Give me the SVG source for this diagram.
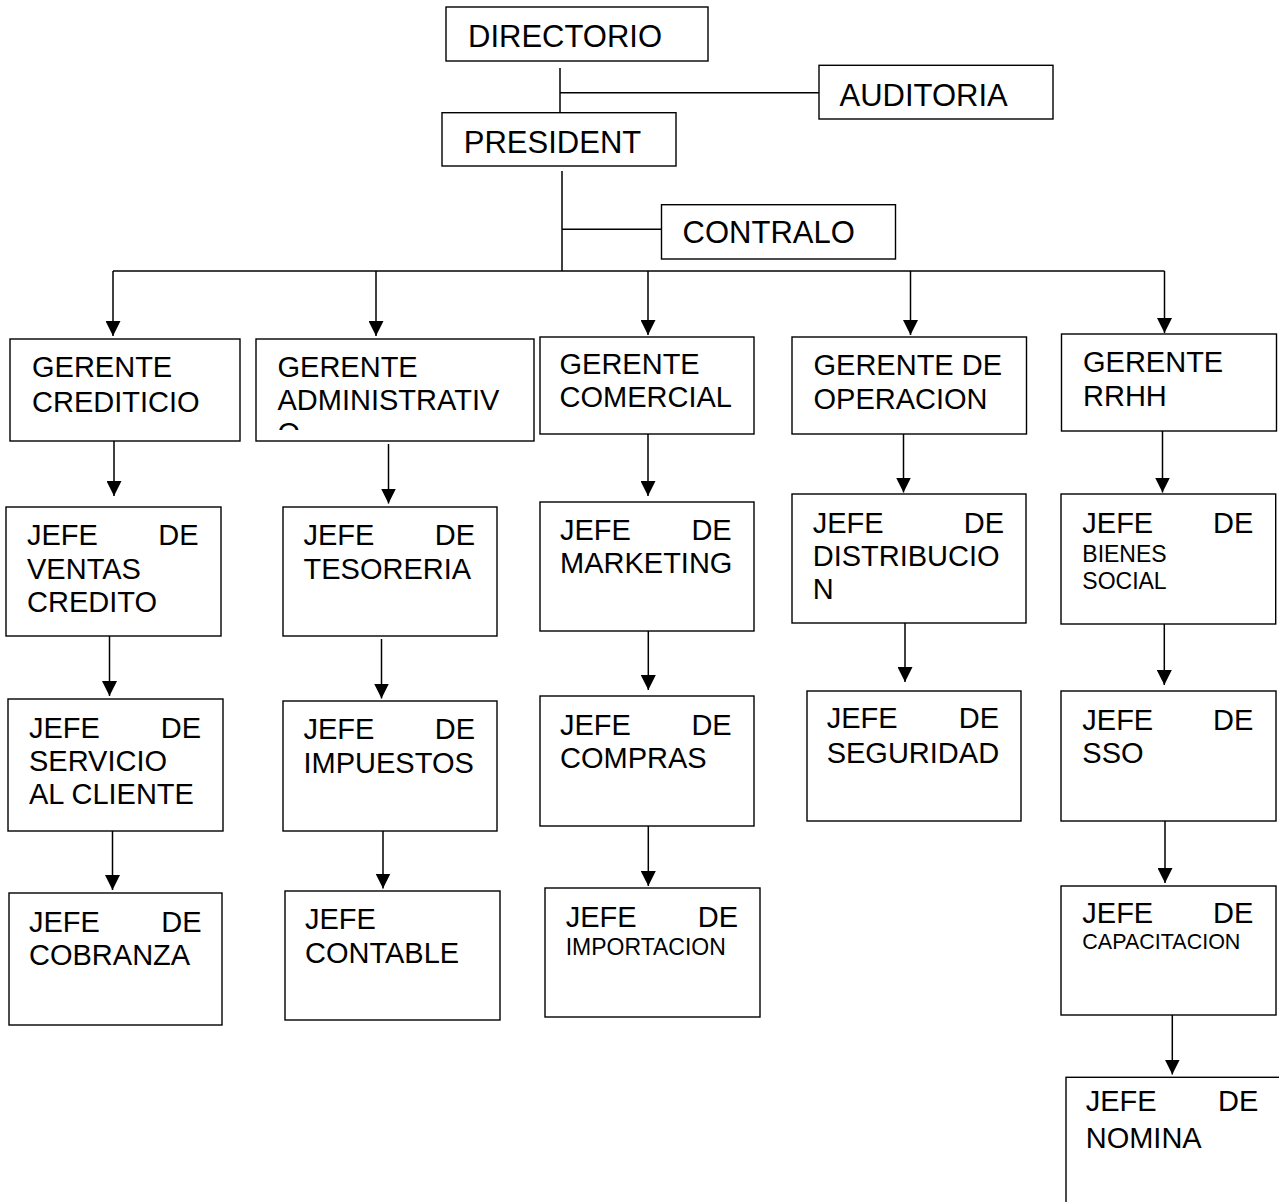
<svg xmlns="http://www.w3.org/2000/svg" width="1279" height="1202" viewBox="0 0 1279 1202">
<style>
.box{fill:#fff;stroke:#000;stroke-width:1.4}
text{font-family:"Liberation Sans",Arial,sans-serif;font-size:29px;fill:#000}
.big{font-size:31px}
.sm{font-size:23px}
.xs{font-size:21.5px}
.end{text-anchor:end}
.ln{stroke:#000;stroke-width:1.5;fill:none}
</style>
<defs>
<marker id="ah" viewBox="0 0 15 15" markerWidth="15" markerHeight="15" refX="15" refY="7.5" orient="auto" markerUnits="userSpaceOnUse">
<path d="M0,0 L15,7.5 L0,15 Z" fill="#000"/>
</marker>
<clipPath id="clipAdmin"><rect x="256" y="339" width="278" height="91"/></clipPath>
</defs>
<rect width="1279" height="1202" fill="#fff"/>

<g id="connectors">
<line class="ln" x1="560" y1="68" x2="560" y2="112"/>
<line class="ln" x1="560" y1="92.7" x2="819" y2="92.7"/>
<line class="ln" x1="562" y1="171" x2="562" y2="271"/>
<line class="ln" x1="562" y1="229.3" x2="661.5" y2="229.3"/>
<line class="ln" x1="113" y1="271" x2="1164.5" y2="271"/>
<line class="ln" x1="113" y1="271" x2="113" y2="336" marker-end="url(#ah)"/>
<line class="ln" x1="376" y1="271" x2="376" y2="336" marker-end="url(#ah)"/>
<line class="ln" x1="648" y1="271" x2="648" y2="335" marker-end="url(#ah)"/>
<line class="ln" x1="910.5" y1="271" x2="910.5" y2="335" marker-end="url(#ah)"/>
<line class="ln" x1="1164.5" y1="271" x2="1164.5" y2="333" marker-end="url(#ah)"/>
<line class="ln" x1="114" y1="441" x2="114" y2="496" marker-end="url(#ah)"/>
<line class="ln" x1="109.5" y1="636" x2="109.5" y2="696" marker-end="url(#ah)"/>
<line class="ln" x1="112.5" y1="831" x2="112.5" y2="890" marker-end="url(#ah)"/>
<line class="ln" x1="388.5" y1="444" x2="388.5" y2="503.5" marker-end="url(#ah)"/>
<line class="ln" x1="381.5" y1="639" x2="381.5" y2="698.5" marker-end="url(#ah)"/>
<line class="ln" x1="383" y1="831" x2="383" y2="888.5" marker-end="url(#ah)"/>
<line class="ln" x1="648" y1="434" x2="648" y2="496" marker-end="url(#ah)"/>
<line class="ln" x1="648.3" y1="631" x2="648.3" y2="690" marker-end="url(#ah)"/>
<line class="ln" x1="648.3" y1="826" x2="648.3" y2="886" marker-end="url(#ah)"/>
<line class="ln" x1="903.5" y1="434" x2="903.5" y2="492.5" marker-end="url(#ah)"/>
<line class="ln" x1="905" y1="623" x2="905" y2="682" marker-end="url(#ah)"/>
<line class="ln" x1="1162.5" y1="431" x2="1162.5" y2="492.5" marker-end="url(#ah)"/>
<line class="ln" x1="1164.3" y1="624" x2="1164.3" y2="685" marker-end="url(#ah)"/>
<line class="ln" x1="1165" y1="821" x2="1165" y2="883" marker-end="url(#ah)"/>
<line class="ln" x1="1172.3" y1="1015" x2="1172.3" y2="1074.5" marker-end="url(#ah)"/>
</g>

<g id="directorio"><rect class="box" x="446" y="7" width="262" height="54"/><text class="big" x="468" y="46.7">DIRECTORIO</text></g>
<g id="auditoria"><rect class="box" x="819" y="65.3" width="234" height="53.7"/><text class="big" x="839.5" y="106">AUDITORIA</text></g>
<g id="president"><rect class="box" x="442" y="112.7" width="234" height="53.3"/><text class="big" x="463.8" y="153.3">PRESIDENT</text></g>
<g id="contralo"><rect class="box" x="661.5" y="204.7" width="234" height="54.3"/><text class="big" x="682.6" y="243.3">CONTRALO</text></g>

<g id="gerente-crediticio"><rect class="box" x="10" y="339" width="230" height="102"/><text x="32" y="377">GERENTE</text><text x="32" y="411.5">CREDITICIO</text></g>
<g id="gerente-administrativo"><rect class="box" x="256" y="339" width="278" height="102"/><text x="277.5" y="376.7">GERENTE</text><text x="277.5" y="410">ADMINISTRATIV</text><text x="277.5" y="443.3" clip-path="url(#clipAdmin)">O</text></g>
<g id="gerente-comercial"><rect class="box" x="540" y="337" width="214" height="97"/><text x="559.5" y="373.5">GERENTE</text><text x="559.5" y="407">COMERCIAL</text></g>
<g id="gerente-operacion"><rect class="box" x="792" y="337" width="234.5" height="97"/><text x="813.5" y="375">GERENTE DE</text><text x="813.5" y="409">OPERACION</text></g>
<g id="gerente-rrhh"><rect class="box" x="1061.5" y="334" width="215" height="97"/><text x="1083" y="371.7">GERENTE</text><text x="1083" y="405.7">RRHH</text></g>

<g id="jefe-ventas"><rect class="box" x="6" y="507" width="215" height="129"/><text x="27" y="545">JEFE</text><text class="end" x="198.5" y="545">DE</text><text x="27" y="578.5">VENTAS</text><text x="27" y="612">CREDITO</text></g>
<g id="jefe-servicio"><rect class="box" x="8" y="699" width="215" height="132"/><text x="29" y="737.5">JEFE</text><text class="end" x="201" y="737.5">DE</text><text x="29" y="771">SERVICIO</text><text x="29" y="804">AL CLIENTE</text></g>
<g id="jefe-cobranza"><rect class="box" x="9" y="893" width="213" height="132"/><text x="29" y="931.5">JEFE</text><text class="end" x="201.5" y="931.5">DE</text><text x="29" y="965">COBRANZA</text></g>

<g id="jefe-tesoreria"><rect class="box" x="283" y="507" width="214" height="129"/><text x="303.5" y="545">JEFE</text><text class="end" x="475" y="545">DE</text><text x="303.5" y="578.5">TESORERIA</text></g>
<g id="jefe-impuestos"><rect class="box" x="283" y="701" width="214" height="130"/><text x="303.5" y="739.3">JEFE</text><text class="end" x="475" y="739.3">DE</text><text x="303.5" y="772.7">IMPUESTOS</text></g>
<g id="jefe-contable"><rect class="box" x="285" y="891" width="215" height="129"/><text x="305" y="929.3">JEFE</text><text x="305" y="962.7">CONTABLE</text></g>

<g id="jefe-marketing"><rect class="box" x="540" y="502" width="214" height="129"/><text x="560" y="540">JEFE</text><text class="end" x="731.7" y="540">DE</text><text x="560" y="572.7">MARKETING</text></g>
<g id="jefe-compras"><rect class="box" x="540" y="696" width="214" height="130"/><text x="560" y="735">JEFE</text><text class="end" x="731.7" y="735">DE</text><text x="560" y="768.3">COMPRAS</text></g>
<g id="jefe-importacion"><rect class="box" x="545" y="888" width="215" height="129"/><text x="565.7" y="926.7">JEFE</text><text class="end" x="738" y="926.7">DE</text><text class="sm" x="565.7" y="955">IMPORTACION</text></g>

<g id="jefe-distribucion"><rect class="box" x="792" y="494" width="234" height="129"/><text x="812.7" y="533.3">JEFE</text><text class="end" x="1004" y="533.3">DE</text><text x="812.7" y="566">DISTRIBUCIO</text><text x="812.7" y="598.5">N</text></g>
<g id="jefe-seguridad"><rect class="box" x="807" y="691" width="214" height="130"/><text x="826.7" y="728.3">JEFE</text><text class="end" x="999" y="728.3">DE</text><text x="826.7" y="762.7">SEGURIDAD</text></g>

<g id="jefe-bienes"><rect class="box" x="1061" y="494" width="214.7" height="130"/><text x="1082.3" y="533.3">JEFE</text><text class="end" x="1253.3" y="533.3">DE</text><text class="sm" x="1082.3" y="561.7">BIENES</text><text class="sm" x="1082.3" y="589">SOCIAL</text></g>
<g id="jefe-sso"><rect class="box" x="1061" y="691" width="215" height="130"/><text x="1082.3" y="730">JEFE</text><text class="end" x="1253.3" y="730">DE</text><text x="1082.3" y="763.3">SSO</text></g>
<g id="jefe-capacitacion"><rect class="box" x="1061" y="886" width="215" height="129"/><text x="1082.3" y="923.3">JEFE</text><text class="end" x="1253.3" y="923.3">DE</text><text class="xs" x="1082.3" y="949">CAPACITACION</text></g>
<g id="jefe-nomina"><rect class="box" x="1066" y="1077.3" width="220" height="140"/><text x="1085.7" y="1111">JEFE</text><text class="end" x="1258.3" y="1111">DE</text><text x="1085.7" y="1148.3">NOMINA</text></g>
</svg>
